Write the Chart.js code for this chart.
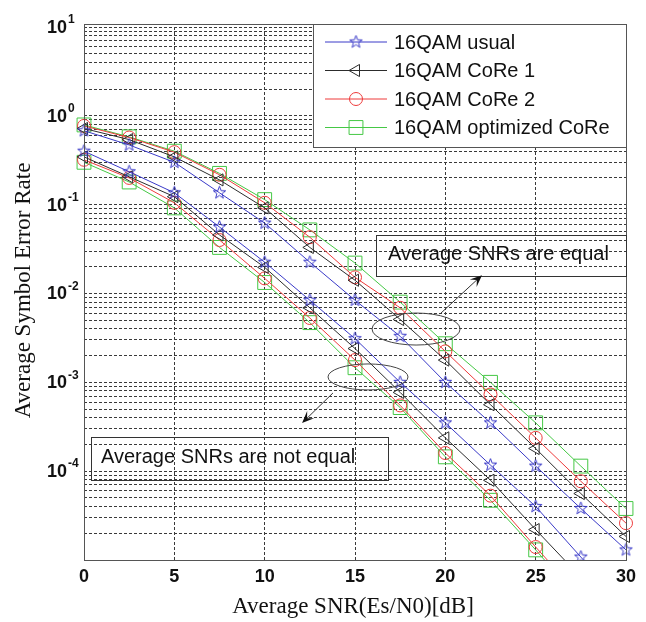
<!DOCTYPE html>
<html>
<head>
<meta charset="utf-8">
<script src="https://cdn.jsdelivr.net/npm/chart.js@4.4.1/dist/chart.umd.min.js"></script>
<style>
  html, body { margin: 0; padding: 0; background: #fff; }
  #wrap { width: 646px; height: 622px; }
</style>
</head>
<body>
<div id="wrap"><canvas id="c" width="646" height="622"></canvas></div>
<script>
/* 16QAM CoRe — average symbol error rate vs average SNR */
const snr = [0, 2.5, 5, 7.5, 10, 12.5, 15, 17.5, 20, 22.5, 25, 27.5, 30];

// "Average SNRs are equal" group (upper curves)
const usualEq = [0.68, 0.47, 0.30, 0.136, 0.062, 0.0225, 0.0084, 0.0033, 1.0e-3, 3.5e-4, 1.14e-4, 3.8e-5, 1.3e-5];
const core1Eq = [0.72, 0.54, 0.345, 0.19, 0.092, 0.033, 0.0141, 0.0051, 1.78e-3, 5.6e-4, 1.8e-4, 5.6e-5, 1.84e-5];
const core2Eq = [0.77, 0.57, 0.39, 0.217, 0.105, 0.043, 0.0152, 0.0069, 2.23e-3, 7.3e-4, 2.37e-4, 7.7e-5, 2.6e-5];
const optEq   = [0.79, 0.58, 0.40, 0.225, 0.114, 0.052, 0.022, 0.0080, 2.72e-3, 1.0e-3, 3.5e-4, 1.14e-4, 3.8e-5];

// "Average SNRs are not equal" group (lower curves)
const usualNe = [0.40, 0.235, 0.136, 0.056, 0.0225, 0.0084, 0.0031, 1.0e-3, 3.5e-4, 1.17e-4, 4.0e-5, 1.08e-5, 2.8e-6];
const core1Ne = [0.345, 0.206, 0.123, 0.0456, 0.0197, 0.0069, 0.0024, 7.7e-4, 2.37e-4, 7.9e-5, 2.2e-5, 6.4e-6, 1.8e-6];
const core2Ne = [0.32, 0.20, 0.105, 0.040, 0.0148, 0.0053, 0.00178, 5.5e-4, 1.6e-4, 5.3e-5, 1.4e-5, 3.8e-6, 1.0e-6];
const optNe   = [0.30, 0.18, 0.092, 0.033, 0.0133, 0.0047, 0.00146, 5.2e-4, 1.45e-4, 4.7e-5, 1.3e-5, 3.4e-6, 0.9e-6];

const seriesNames = ["16QAM usual", "16QAM CoRe 1", "16QAM CoRe 2", "16QAM optimized CoRe"];
const xTicks = [0, 5, 10, 15, 20, 25, 30];
const yDecades = [-5, -4, -3, -2, -1, 0, 1];
const yLabelExps = [1, 0, -1, -2, -3, -4];

const COLORS = ["#3a3ac8", "#2c2c2c", "#ee3b3b", "#45c845"];

function starImg(color) {
  const c = document.createElement("canvas");
  c.width = c.height = 15;
  const g = c.getContext("2d");
  g.strokeStyle = color; g.lineWidth = 1;
  g.beginPath();
  for (let i = 0; i < 10; i++) {
    const r = i % 2 ? 2.7 : 6.6, a = -Math.PI / 2 + i * Math.PI / 5;
    g.lineTo(7.5 + r * Math.cos(a), 7.5 + r * Math.sin(a));
  }
  g.closePath(); g.stroke();
  return c;
}

const MARK = [
  { pointStyle: starImg(COLORS[0]), radius: 7, rotation: 0 },
  { pointStyle: "triangle", radius: 7, rotation: -90 },
  { pointStyle: "circle", radius: 6.5, rotation: 0 },
  { pointStyle: "rect", radius: 9.8, rotation: 0 },
];

const groups = [[usualEq, core1Eq, core2Eq, optEq], [usualNe, core1Ne, core2Ne, optNe]];
const datasets = [];
groups.forEach((grp, gi) => grp.forEach((vals, i) => {
  datasets.push({
    label: gi === 0 ? seriesNames[i] : seriesNames[i] + " (not equal)",
    data: snr.map((x, k) => ({ x, y: vals[k] })),
    borderColor: COLORS[i], borderWidth: 1, tension: 0,
    pointStyle: MARK[i].pointStyle, pointRadius: MARK[i].radius, pointRotation: MARK[i].rotation,
    pointBorderColor: COLORS[i], pointBackgroundColor: "rgba(0,0,0,0)", pointBorderWidth: 1,
    clip: { left: 12, right: 12, top: 12, bottom: 0 },
  });
}));

// tick/grid values for the log axis: 1..9 x 10^k
const yGrid = [];
yDecades.forEach((d) => { for (let m = 1; m <= 9; m++) { if (d === 1 && m > 1) break; yGrid.push(m * Math.pow(10, d)); } });

// annotation anchors (data coordinates)
const notes = {
  eqBox: { x1: 16.16, x2: 30, y1: 0.0456, y2: 0.0157, tx: 16.83, ty: 0.0272, text: "Average SNRs are equal" },
  neBox: { x1: 0.39, x2: 16.83, y1: 2.43e-4, y2: 7.95e-5, tx: 0.94, ty: 1.41e-4, text: "Average SNRs are not equal" },
  ell: [{ x: 18.38, y: 3.98e-3, rx: 44, ry: 16 }, { x: 15.72, y: 1.15e-3, rx: 40, ry: 13 }],
  arrows: [{ x0: 19.7, y0: 5.87e-3, x1: 22.03, y1: 0.0161 }, { x0: 13.78, y0: 7.59e-4, x1: 12.07, y1: 3.48e-4 }],
};

const SANS = '"Liberation Sans", Arial, Helvetica, sans-serif';
const SERIF = '"Liberation Serif", "Times New Roman", Times, serif';

function arrow(ctx, x0, y0, x1, y1) {
  const a = Math.atan2(y1 - y0, x1 - x0), L = 12, W = 5;
  ctx.beginPath(); ctx.moveTo(x0, y0); ctx.lineTo(x1 - Math.cos(a) * 6, y1 - Math.sin(a) * 6); ctx.stroke();
  ctx.beginPath();
  ctx.moveTo(x1, y1);
  ctx.lineTo(x1 - L * Math.cos(a) + W * Math.sin(a), y1 - L * Math.sin(a) - W * Math.cos(a));
  ctx.lineTo(x1 - 7 * Math.cos(a), y1 - 7 * Math.sin(a));
  ctx.lineTo(x1 - L * Math.cos(a) - W * Math.sin(a), y1 - L * Math.sin(a) + W * Math.cos(a));
  ctx.closePath(); ctx.fill();
}

const decor = {
  id: "decor",
  afterDraw(chart) {
    const { ctx, chartArea: a, scales } = chart;
    const X = (v) => scales.x.getPixelForValue(v), Y = (v) => scales.y.getPixelForValue(v);
    ctx.save();
    // plot box
    ctx.strokeStyle = "#555"; ctx.lineWidth = 1;
    ctx.strokeRect(Math.round(a.left) + 0.5, Math.round(a.top) - 2.5, Math.round(a.width), Math.round(a.height) + 3);

    // x tick labels
    ctx.fillStyle = "#111"; ctx.textBaseline = "middle"; ctx.textAlign = "center";
    ctx.font = "bold 18px " + SANS;
    xTicks.forEach((t) => ctx.fillText(String(t), X(t), a.bottom + 17));

    // y tick labels 10^k
    yLabelExps.forEach((e) => {
      const y = Y(Math.pow(10, e));
      ctx.font = "bold 18px " + SANS; ctx.textAlign = "right";
      ctx.fillText("10", a.left - 17, y + 1);
      ctx.font = "bold 12px " + SANS; ctx.textAlign = "left";
      ctx.fillText(e < 0 ? "-" + (-e) : String(e), a.left - 16, y - 7);
    });

    // axis titles
    ctx.font = "23px " + SERIF; ctx.textAlign = "center";
    ctx.fillText("Average SNR(Es/N0)[dB]", (a.left + a.right) / 2 - 2, a.bottom + 47);
    ctx.save(); ctx.translate(24, (a.top + a.bottom) / 2 - 3); ctx.rotate(-Math.PI / 2);
    ctx.fillText("Average Symbol Error Rate", 0, 0); ctx.restore();

    // annotations
    ctx.strokeStyle = "#333"; ctx.fillStyle = "#111"; ctx.lineWidth = 1;
    ctx.font = "20px " + SANS; ctx.textAlign = "left";
    [notes.eqBox, notes.neBox].forEach((b) => {
      const x1 = Math.round(X(b.x1)) + 0.5, x2 = Math.round(X(b.x2)) + 0.5;
      const y1 = Math.round(Y(b.y1)) + 0.5, y2 = Math.round(Y(b.y2)) + 0.5;
      ctx.strokeRect(x1, y1, x2 - x1, y2 - y1);
      ctx.fillText(b.text, X(b.tx), Y(b.ty));
    });
    ctx.strokeStyle = "#444";
    notes.ell.forEach((e) => { ctx.beginPath(); ctx.ellipse(X(e.x), Y(e.y), e.rx, e.ry, 0, 0, Math.PI * 2); ctx.stroke(); });
    ctx.strokeStyle = "#333"; ctx.fillStyle = "#111";
    notes.arrows.forEach((r) => arrow(ctx, X(r.x0), Y(r.y0), X(r.x1), Y(r.y1)));

    // legend
    const lw = 313, lh = 123, lx = Math.round(a.right) - lw, ly = Math.round(a.top) - 3;
    ctx.fillStyle = "#fff"; ctx.fillRect(lx, ly, lw, lh);
    ctx.strokeStyle = "#555"; ctx.strokeRect(lx + 0.5, ly + 0.5, lw, lh);
    seriesNames.forEach((name, i) => {
      const ry = ly + 18 + i * 28.5;
      ctx.strokeStyle = COLORS[i]; ctx.lineWidth = 1;
      ctx.beginPath(); ctx.moveTo(lx + 12, ry); ctx.lineTo(lx + 74, ry); ctx.stroke();
      ctx.fillStyle = "rgba(0,0,0,0)";
      Chart.helpers.drawPoint(ctx, { pointStyle: MARK[i].pointStyle, radius: MARK[i].radius, rotation: MARK[i].rotation, borderWidth: 1 }, lx + 43, ry);
      ctx.fillStyle = "#111"; ctx.font = "20px " + SANS; ctx.textAlign = "left"; ctx.textBaseline = "middle";
      ctx.fillText(name, lx + 81, ry + 1);
    });
    ctx.restore();
  },
};

new Chart(document.getElementById("c"), {
  type: "line",
  data: { datasets },
  options: {
    responsive: false, animation: false, devicePixelRatio: 1,
    layout: { padding: { left: 84, right: 20, top: 27, bottom: 62 } },
    plugins: { legend: { display: false }, tooltip: { enabled: false } },
    scales: {
      x: {
        type: "linear", min: 0, max: 30,
        afterBuildTicks: (s) => { s.ticks = xTicks.map((v) => ({ value: v })); },
        ticks: { display: false },
        grid: { color: "#3a3a3a", lineWidth: 1, drawTicks: false },
        border: { display: false, dash: [3, 2] },
      },
      y: {
        type: "logarithmic", min: 1e-5, max: 10,
        afterBuildTicks: (s) => { s.ticks = yGrid.map((v) => ({ value: v })); },
        ticks: { display: false },
        grid: { color: "#3a3a3a", lineWidth: 1, drawTicks: false },
        border: { display: false, dash: [3, 2] },
      },
    },
  },
  plugins: [decor],
});
</script>
</body>
</html>
